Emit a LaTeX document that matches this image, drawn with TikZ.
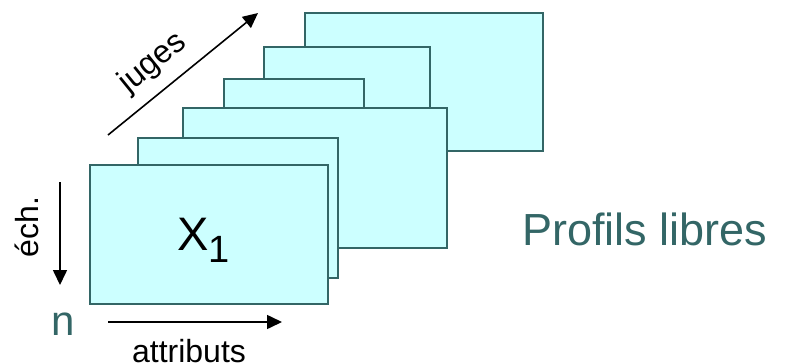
\documentclass[tikz,border=0pt]{standalone}
\usepackage{fontspec}
\setmainfont{Liberation Sans}
\usetikzlibrary{arrows.meta}
\definecolor{teal}{HTML}{336666}
\definecolor{sheetfill}{HTML}{CCFFFF}
\begin{document}
\begin{tikzpicture}[x=1pt,y=-1pt,
  sheet/.style={draw=teal,fill=sheetfill,line width=2pt,anchor=north west,inner sep=0pt},
  axis/.style={line width=1.6pt,-{Triangle[length=15pt,width=14pt]}},
  lbl/.style={inner sep=0pt,font=\fontsize{32}{36}\selectfont}]
\useasboundingbox (0,0) rectangle (785,362);
% sheets, back to front
\node[sheet,minimum width=238pt,minimum height=138pt] (s6) at (304,12) {};
\node[sheet,minimum width=166pt,minimum height=140pt] (s5) at (263,46) {};
\node[sheet,minimum width=140pt,minimum height=140pt] (s4) at (223,78) {};
\node[sheet,minimum width=264pt,minimum height=140pt] (s3) at (182,107) {};
\node[sheet,minimum width=200pt,minimum height=140pt] (s2) at (137,137) {};
\node[sheet,minimum width=238pt,minimum height=139pt] (s1) at (89,164) {};
% X_1
\node[anchor=base west,inner sep=0pt,font=\fontsize{47}{50}\selectfont] (x1) at (177,250)
  {X\raisebox{-12pt}{\fontsize{38}{40}\selectfont 1}};
% axes
\coordinate (ja) at (108,135);
\coordinate (jb) at (258,13);
\draw[axis] (ja) -- (jb);
\node[lbl,rotate=39] (juges) at (153,63) {juges};
\coordinate (ea) at (60,182);
\coordinate (eb) at (60,285);
\draw[axis] (ea) -- (eb);
\node[lbl,rotate=90,anchor=base] (ech) at (38,227) {éch.};
\coordinate (aa) at (108,322);
\coordinate (ab) at (282,322);
\draw[axis] (aa) -- (ab);
\node[lbl,anchor=base] (attr) at (189,362) {attributs};
\node[anchor=base west,inner sep=0pt,text=teal,font=\fontsize{42}{46}\selectfont] (n) at (51,335) {n};
\node[anchor=base west,inner sep=0pt,text=teal,font=\fontsize{45}{50}\selectfont] (title) at (522,245) {Profils libres};
\end{tikzpicture}
\end{document}
